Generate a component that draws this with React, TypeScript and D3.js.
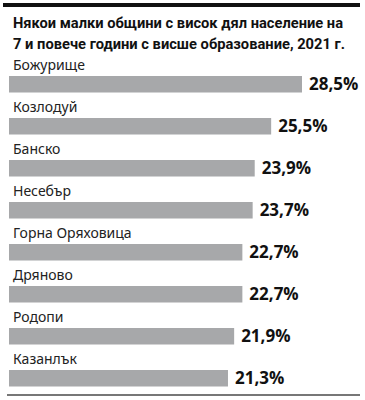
import React from "react"
import * as d3 from "d3"

const titleLines = [
  "Някои малки общини с висок дял население на",
  "7 и повече години с висше образование, 2021 г.",
]
const towns = ["Божурище", "Козлодуй", "Банско", "Несебър", "Горна Оряховица", "Дряново", "Родопи", "Казанлък"]
const shares = [28.5, 25.5, 23.9, 23.7, 22.7, 22.7, 21.9, 21.3]

const W = 365
const H = 400
const barColor = "#a7a8aa"

export default function App() {
  // horizontal scale: 0 starts at the left edge of bars
  const x = d3.scaleLinear().domain([0, d3.max(shares) as number]).range([9, 302])
  const y = d3.scaleBand<string>()
    .domain(towns)
    .range([76, 386.5])
    .paddingInner(0.607)
    .paddingOuter(0)
    .align(0)

  const fmt = (v: number) => d3.format(".1f")(v).replace(".", ",") + "%"

  return (
    <svg width={W} height={H} lang="bg" style={{ position: "absolute", left: 0, top: 0, background: "#fff" }}>
      <rect x={3} y={3} width={357} height={4} fill="#111" />
      {titleLines.map((t, i) => (
        <text
          key={i}
          x={13}
          y={28 + i * 21}
          fontFamily="Roboto, sans-serif"
          fontWeight="bold"
          fontSize={14.6}
          fill="#111"
          textLength={i === 0 ? 330 : 332}
          lengthAdjust="spacingAndGlyphs"
        >
          {t}
        </text>
      ))}
      {towns.map((t, i) => {
        const top = y(t) as number
        const v = shares[i]
        return (
          <g key={t}>
            <text x={13} y={top - 6} fontFamily="'Noto Sans', sans-serif" fontSize={14} fill="#222">
              {t}
            </text>
            <rect x={x(0)} y={top} width={x(v) - x(0)} height={y.bandwidth()} fill={barColor} />
            <text
              x={x(v) + 7}
              y={top + y.bandwidth() / 2}
              dy="0.36em"
              fontFamily="'Open Sans', sans-serif"
              fontWeight="bold"
              fontSize={17}
              fill="#111"
            >
              {fmt(v)}
            </text>
          </g>
        )
      })}
      <rect x={7} y={394} width={353} height={2} fill="#777" />
    </svg>
  )
}
